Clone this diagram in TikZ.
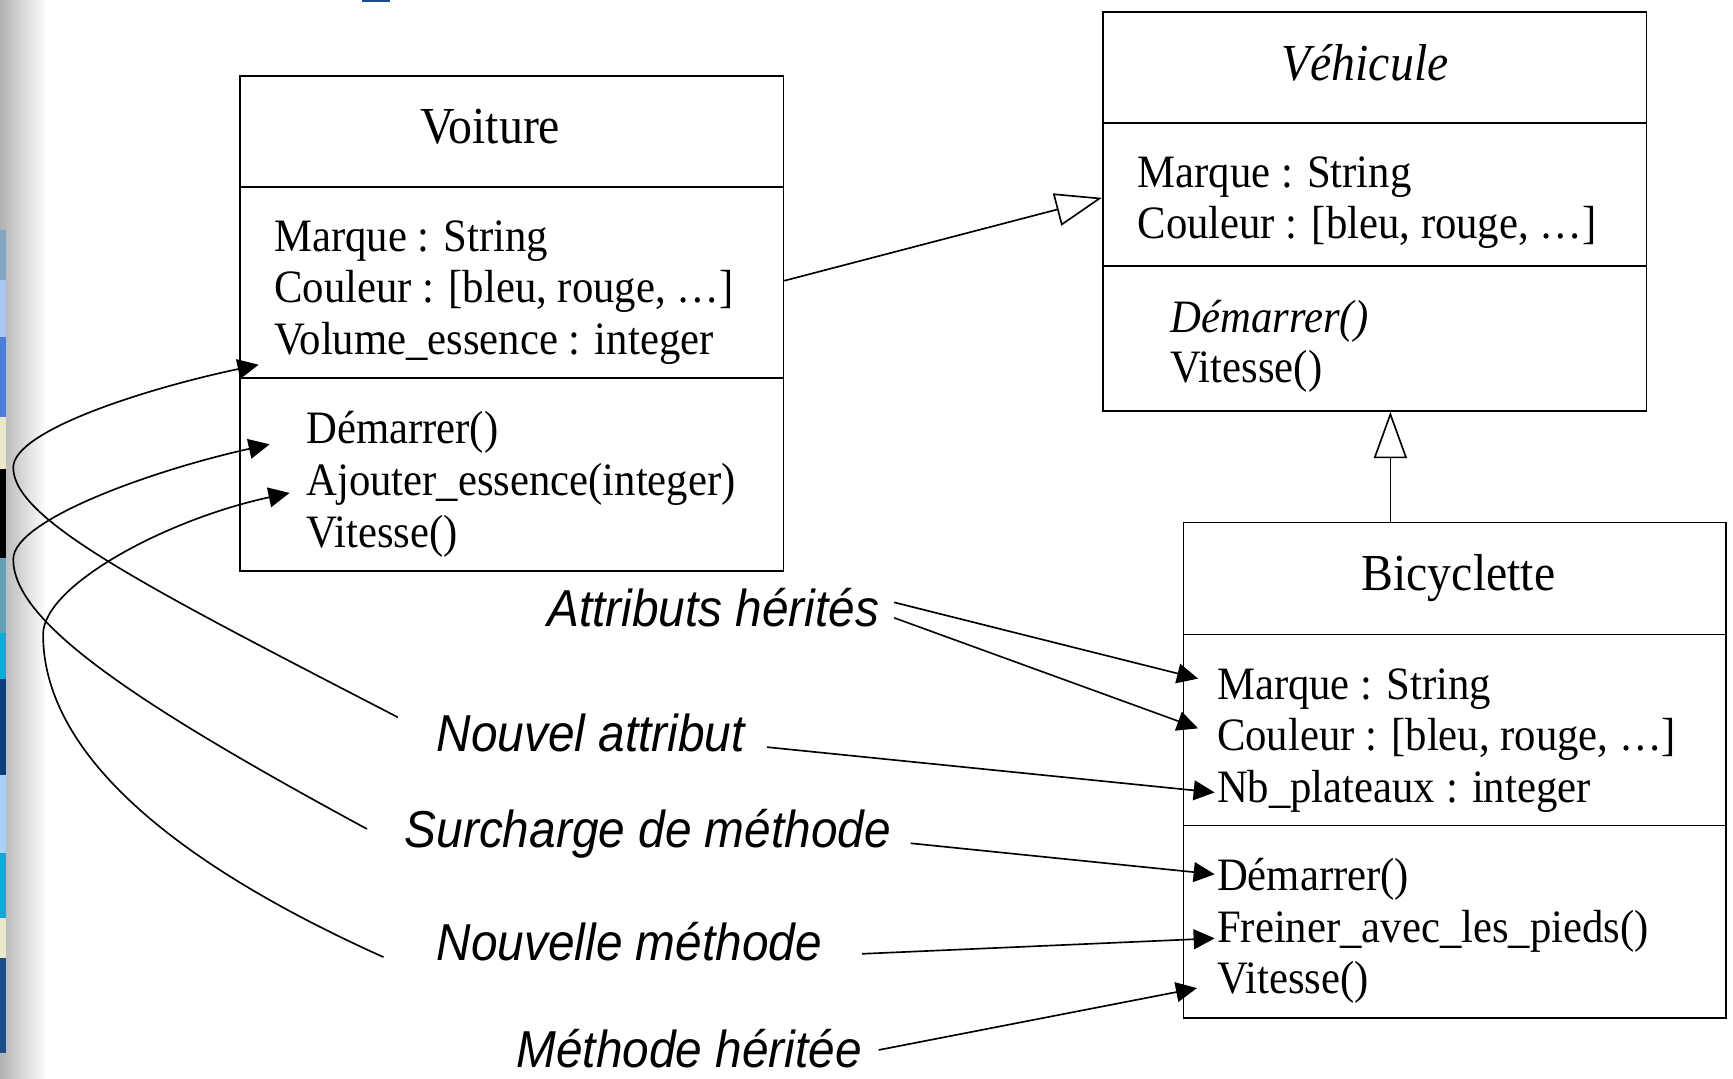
\documentclass[tikz,border=0pt]{standalone}
\usepackage{fontspec}
\setmainfont{Liberation Serif}[FakeStretch=0.92]
\newfontfamily\umlsans{Liberation Sans}[FakeStretch=0.92]
\usetikzlibrary{arrows.meta,calc}
\newcommand\umlbody{\fontsize{42}{46.5}\selectfont}
\newcommand\umltitle{\fontsize{47}{50}\selectfont}
\newcommand\umllab{\umlsans\itshape\fontsize{47}{50}\selectfont}
\definecolor{sA}{HTML}{7FA6C4}
\definecolor{sB}{HTML}{A9C9F2}
\definecolor{sC}{HTML}{4B7FD8}
\definecolor{sD}{HTML}{EBE7CB}
\definecolor{sE}{HTML}{62A0B8}
\definecolor{sF}{HTML}{13A7D8}
\definecolor{sG}{HTML}{0B3F7A}
\definecolor{sH}{HTML}{A7D2FB}
\definecolor{sI}{HTML}{1B4D8A}
\begin{document}
\begin{tikzpicture}[x=1pt,y=-1pt,
  txt/.style={anchor=base west, inner sep=0, font=\umlbody},
  ttl/.style={anchor=base, inner sep=0, font=\umltitle},
  lab/.style={anchor=base west, inner sep=0, font=\umllab},
  boxs/.style={draw, line width=1.6pt, inner sep=0, anchor=north west},
  divl/.style={line width=1.6pt},
  gen/.style={line width=1.5pt, -{Triangle[open, length=42pt, width=30pt, fill=white]}},
  con/.style={line width=1.5pt, -{Triangle[length=19pt, width=18pt]}}]
\useasboundingbox (0,0) rectangle (1568,976);
\fill[white] (0,0) rectangle (1568,976);
% left decorative strip
\shade[left color=gray!60, right color=white] (0,0) rectangle (42,976);
\fill[sA] (0,208) rectangle (5,253);
\fill[sB] (0,253) rectangle (5,305);
\fill[sC] (0,305) rectangle (5,377);
\fill[sD] (0,377) rectangle (5,424);
\fill[black] (0,424) rectangle (5,505);
\fill[sE] (0,505) rectangle (5,573);
\fill[sF] (0,573) rectangle (5,614);
\fill[sG] (0,614) rectangle (5,701);
\fill[sH] (0,701) rectangle (5,772);
\fill[sF] (0,772) rectangle (5,831);
\fill[sD] (0,831) rectangle (5,867);
\fill[sI] (0,867) rectangle (5,953);
\fill[sI] (327.5,0) rectangle (353,2);

% boxes
\node[boxs, minimum width=492pt, minimum height=448pt] (voiture) at (216,68) {};
\draw[divl] (voiture.west |- 0,169) -- (voiture.east |- 0,169);
\draw[divl] (voiture.west |- 0,342) -- (voiture.east |- 0,342);
\node[boxs, minimum width=492pt, minimum height=361pt] (vehicule) at (997,10) {};
\draw[divl] (vehicule.west |- 0,111) -- (vehicule.east |- 0,111);
\draw[divl] (vehicule.west |- 0,241) -- (vehicule.east |- 0,241);
\node[boxs, minimum width=491pt, minimum height=448pt] (bicy) at (1070,472) {};
\draw[divl] (bicy.west |- 0,574) -- (bicy.east |- 0,574);
\draw[divl] (bicy.west |- 0,747) -- (bicy.east |- 0,747);

% Voiture texts
\node[ttl] (vT) at (443.5,130) {Voiture};
\node[txt] (vA1) at (248,228) {Marque : String};
\node[txt] (vA2) at (248,274) {Couleur : [bleu, rouge, …]};
\node[txt] (vA3) at (248,321) {Volume\_essence : integer};
\node[txt] (vM1) at (277,401) {Démarrer()};
\node[txt] (vM2) at (277,448) {Ajouter\_essence(integer)};
\node[txt] (vM3) at (277,495) {Vitesse()};
% Vehicule texts
\node[ttl, font=\umltitle\itshape] (hT) at (1235,73) {Véhicule};
\node[txt] (hA1) at (1029,170) {Marque : String};
\node[txt] (hA2) at (1029,216) {Couleur : [bleu, rouge, …]};
\node[txt, font=\umlbody\itshape] (hM1) at (1059,301) {Démarrer()};
\node[txt] (hM2) at (1059,346) {Vitesse()};
% Bicyclette texts
\node[ttl] (bT) at (1319.5,534) {Bicyclette};
\node[txt] (bA1) at (1101,633) {Marque : String};
\node[txt] (bA2) at (1101,679) {Couleur : [bleu, rouge, …]};
\node[txt] (bA3) at (1101,726) {Nb\_plateaux : integer};
\node[txt] (bM1) at (1101,806) {Démarrer()};
\node[txt] (bM2) at (1101,853) {Freiner\_avec\_les\_pieds()};
\node[txt] (bM3) at (1101,899) {Vitesse()};

% labels
\node[lab] (lAH) at (495,567) {Attributs hérités};
\node[lab] (lNA) at (395,680) {Nouvel attribut};
\node[lab] (lSM) at (366,767) {Surcharge de méthode};
\node[lab] (lNM) at (395,869) {Nouvelle méthode};
\node[lab] (lMH) at (467,966) {Méthode héritée};

% connector ends
\coordinate (sAH1) at (809,545);
\coordinate (sAH2) at (809,559);
\coordinate (sNA) at (694,676);
\coordinate (sSM) at (824,763);
\coordinate (sNM) at (780,863);
\coordinate (sMH) at (795,950);
\coordinate (tBA1) at (1084,614);
\coordinate (tBA2) at (1084,659);
\coordinate (tBA3) at (1099,717);
\coordinate (tBM1) at (1099,791);
\coordinate (tBM2) at (1099,849);
\coordinate (tBM3) at (1083,894);
\coordinate (cNA) at (360,649);
\coordinate (cSM) at (332,750);
\coordinate (cNM) at (347,866);
\coordinate (tVA) at (234,330);
\coordinate (tVM1) at (244,402);
\coordinate (tVM2) at (262,446);

% generalisations
\draw[gen] (voiture.east |- 0,254) -- (vehicule.west |- 0,179);
\draw[gen] (1258,0 |- bicy.north) -- (1258,0 |- vehicule.south);

% straight connectors
\draw[con] (sAH1) -- (tBA1);
\draw[con] (sAH2) -- (tBA2);
\draw[con] (sNA) -- (tBA3);
\draw[con] (sSM) -- (tBM1);
\draw[con] (sNM) -- (tBM2);
\draw[con] (sMH) -- (tBM3);

% curved connectors
\draw[con] (cNA) .. controls (130,530) and (12,470) .. (12,423)
  .. controls (12,390) and (130,352) .. (tVA);
\draw[con] (cSM) .. controls (110,630) and (12,560) .. (12,506)
  .. controls (12,470) and (140,425) .. (tVM1);
\draw[con] (cNM) .. controls (200,800) and (39,700) .. (39,574)
  .. controls (39,530) and (150,470) .. (tVM2);
\end{tikzpicture}
\end{document}
